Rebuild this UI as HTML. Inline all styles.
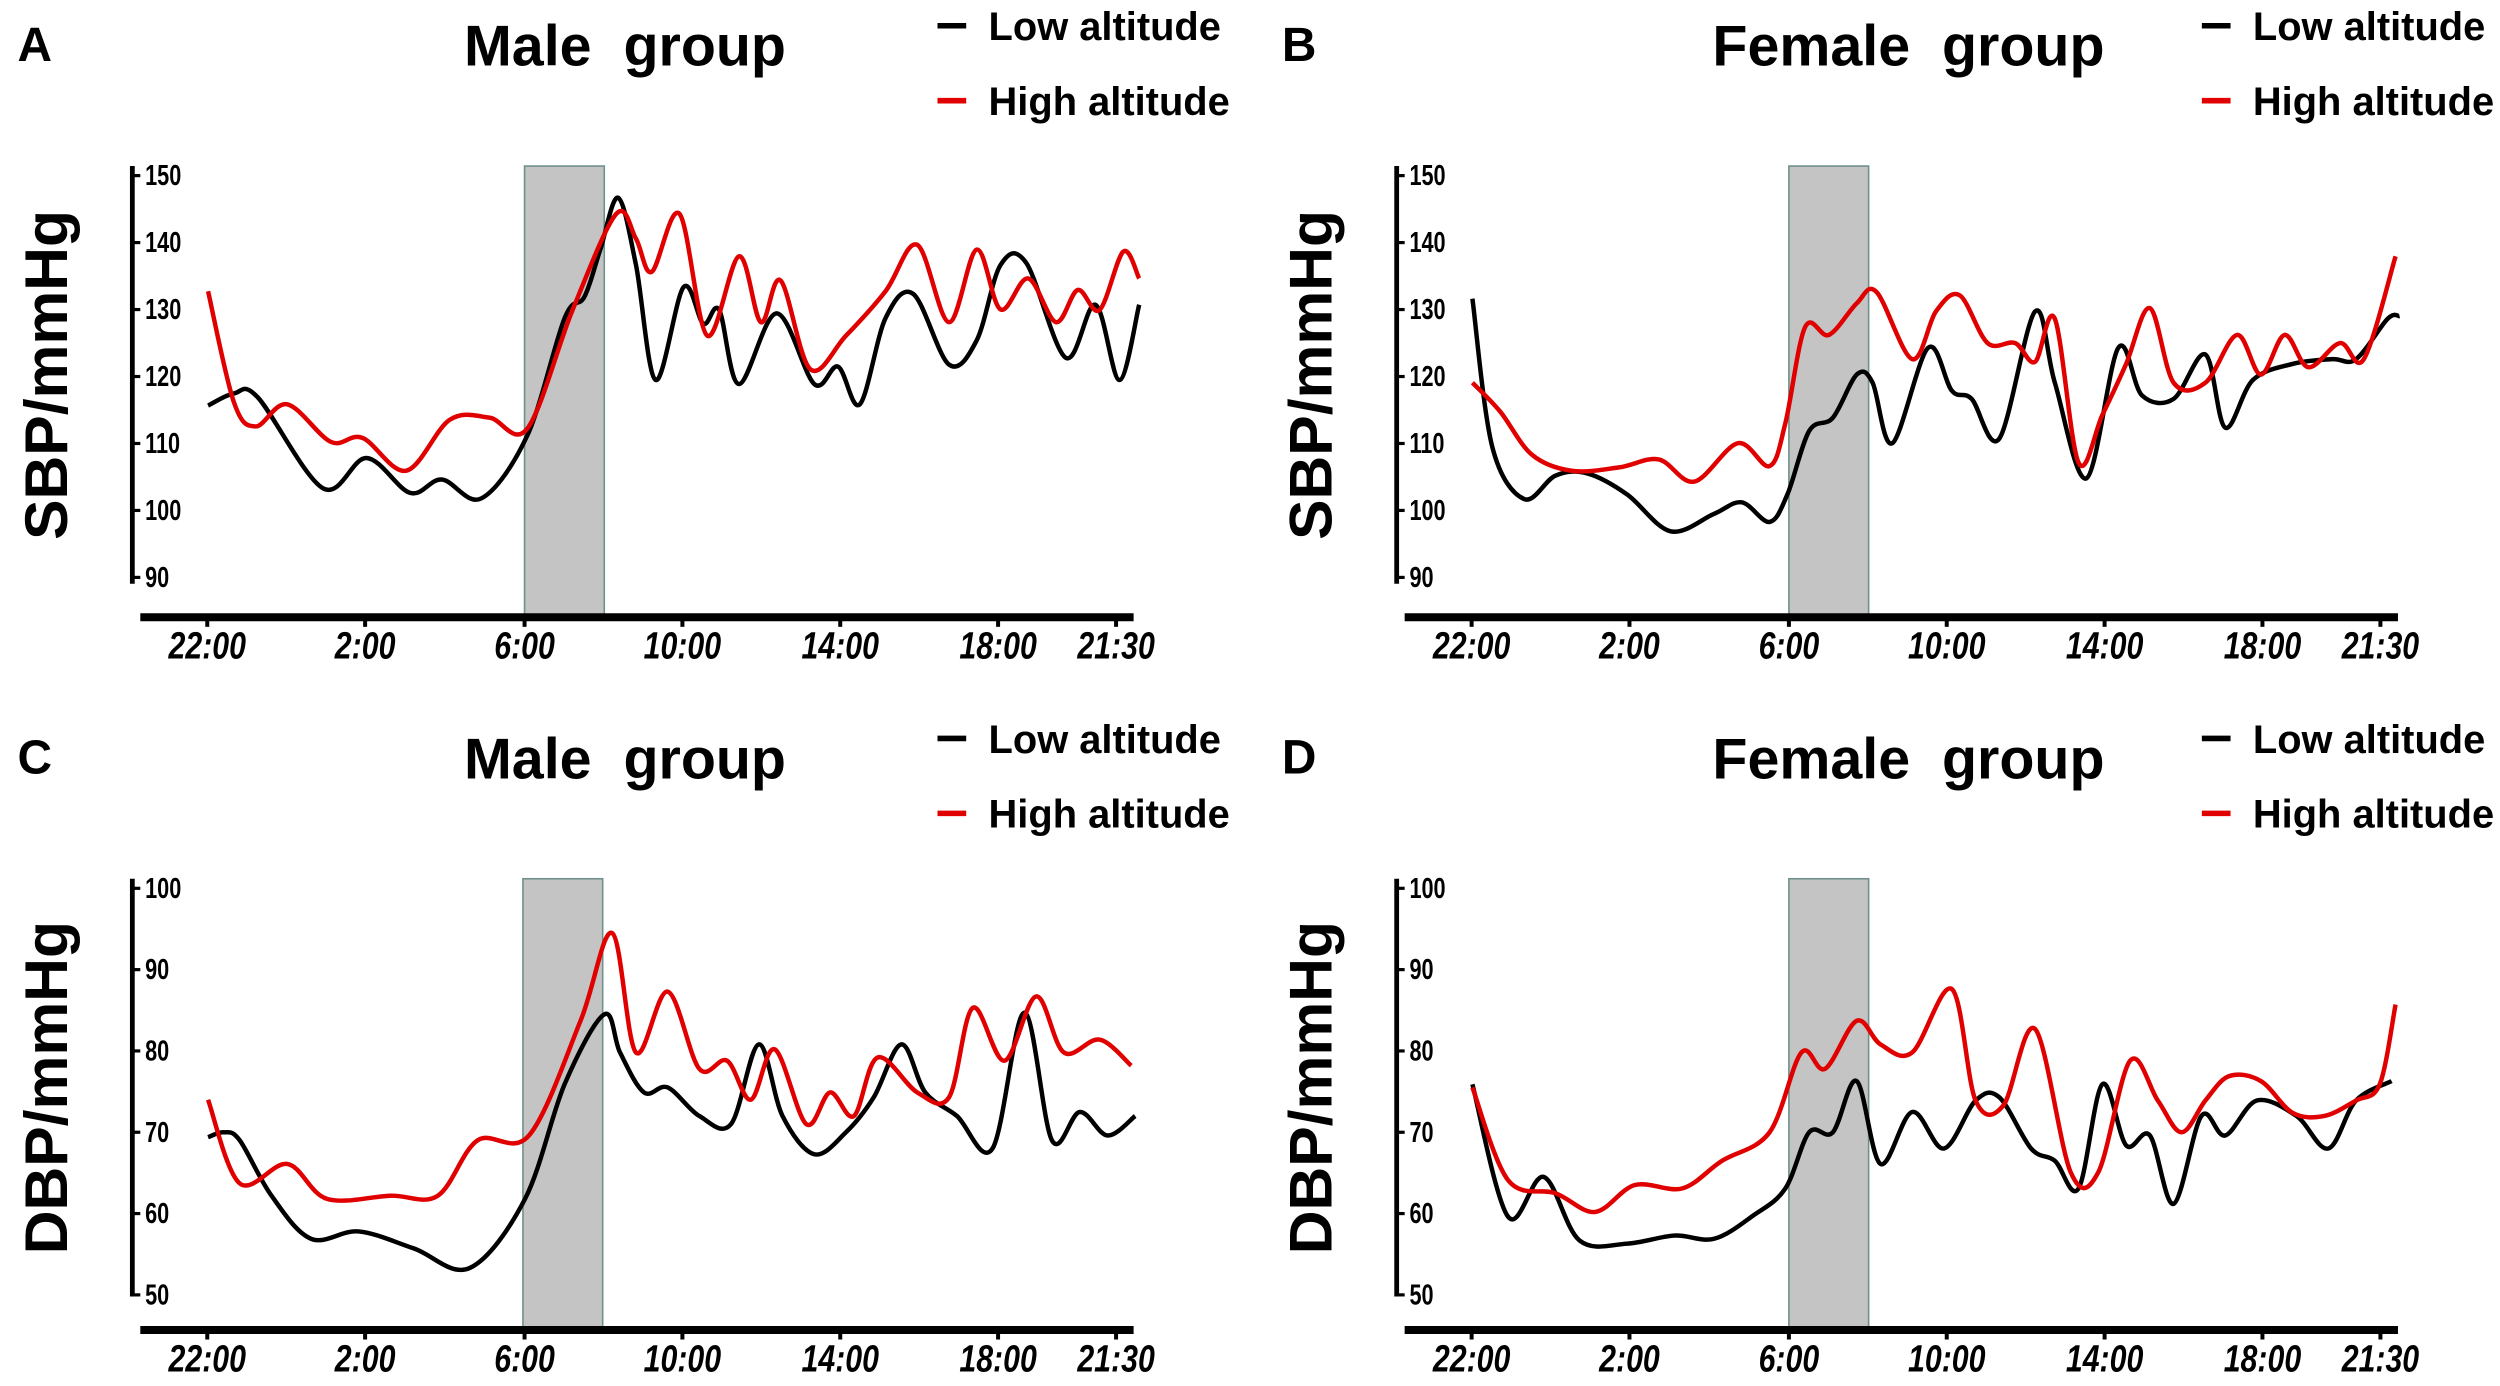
<!DOCTYPE html>
<html><head><meta charset="utf-8"><style>
html,body{margin:0;padding:0;background:#fff;}
svg{display:block;}
text{font-family:"Liberation Sans",Arial,sans-serif;font-weight:bold;fill:#000;}
.tk{font-size:17px;}
.xl{font-size:20px;font-style:italic;}
.lg{font-size:25px;}
.tt{font-size:36px;}
.pl{font-size:30px;}
.yt{font-size:38px;}
</style></head><body>
<svg id="s" width="2500" height="1386" viewBox="0 0 1568 869" xmlns="http://www.w3.org/2000/svg">
<rect width="1568" height="869" fill="#fff"/>
</svg>
<script>
var S=document.getElementById('s'),NS='http://www.w3.org/2000/svg';
function el(t,a,txt,p){var e=document.createElementNS(NS,t);for(var k in a)e.setAttribute(k,a[k]);if(txt!=null)e.textContent=txt;(p||S).appendChild(e);return e;}
function smooth(pts){var d='M'+pts[0][0].toFixed(1)+','+pts[0][1].toFixed(1);
for(var i=0;i<pts.length-1;i++){var p0=pts[i-1]||pts[i],p1=pts[i],p2=pts[i+1],p3=pts[i+2]||p2;
var c1=[p1[0]+(p2[0]-p0[0])/6,p1[1]+(p2[1]-p0[1])/6],c2=[p2[0]-(p3[0]-p1[0])/6,p2[1]-(p3[1]-p1[1])/6];
d+='C'+c1[0].toFixed(1)+','+c1[1].toFixed(1)+' '+c2[0].toFixed(1)+','+c2[1].toFixed(1)+' '+p2[0].toFixed(1)+','+p2[1].toFixed(1);}
return d;}
function panel(dx,dy,letter,title,ytitle,ticks,boxX,black,red,cx){
 var g=el('g',{transform:'translate('+dx+','+dy+')'});
 el('text',{x:11,y:38,'class':'pl'},letter,g);
 el('text',{x:cx,y:41,'class':'tt','text-anchor':'middle'},title,g);
 el('line',{x1:588,x2:606,y1:16,y2:16,stroke:'#000','stroke-width':3.5},null,g);
 el('text',{x:620,y:25,'class':'lg'},'Low altitude',g);
 el('line',{x1:588,x2:606,y1:63,y2:63,stroke:'#e00000','stroke-width':3.5},null,g);
 el('text',{x:620,y:72,'class':'lg'},'High altitude',g);
 el('text',{x:0,y:0,'class':'yt','text-anchor':'middle',transform:'translate(42,235) rotate(-90)'},ytitle,g);
 el('line',{x1:83,x2:83,y1:104,y2:366,stroke:'#000','stroke-width':3},null,g);
 ticks.forEach(function(t){el('line',{x1:83,x2:88,y1:t[1],y2:t[1],stroke:'#000','stroke-width':2},null,g);
   el('text',{x:0,y:0,'class':'tk',transform:'translate(91,'+(t[1]+6)+') scale(0.8,1.05)'},t[0],g);});
 el('rect',{x:boxX,y:104,width:50,height:282,fill:'#c4c4c4',stroke:'#6f8f8c','stroke-width':1},null,g);
 el('line',{x1:88,x2:711,y1:387,y2:387,stroke:'#000','stroke-width':5},null,g);
 var xs=[[130,'22:00'],[229,'2:00'],[329,'6:00'],[428,'10:00'],[527,'14:00'],[626,'18:00'],[700,'21:30']];
 xs.forEach(function(t){el('line',{x1:t[0],x2:t[0],y1:387,y2:393,stroke:'#000','stroke-width':2.5},null,g);
   el('text',{x:0,y:0,'class':'xl','text-anchor':'middle',transform:'translate('+t[0]+',413) scale(0.95,1.2)'},t[1],g);});
 el('path',{d:smooth(black),fill:'none',stroke:'#000','stroke-width':2.8,'stroke-linejoin':'round'},null,g);
 el('path',{d:smooth(red),fill:'none',stroke:'#e00000','stroke-width':2.8,'stroke-linejoin':'round'},null,g);
}
function hv(arr,top,unit,topv){return arr.map(function(p){return [130.5+p[0]*24.85, top+(topv-p[1])*unit];});}
var sT=[['150',110],['140',152],['130',194],['120',236],['110',278],['100',320],['90',362]];
var dT=[['100',110],['90',161],['80',212],['70',263],['60',314],['50',365]];
var Ab=[[0,115.8],[0.65,117.6],[1.26,117],[2.9,103.5],[4,108],[5.1,102.8],[5.9,104.8],[6.9,102],[8.06,111.4],[9,128.8],[9.5,132],[9.9,139],[10.35,146.7],[10.8,136.7],[11.3,119.6],[12,133.4],[12.5,128],[12.9,130],[13.4,119],[14.35,129.5],[15.3,119],[15.9,121.6],[16.45,116],[17.1,128.8],[17.8,132.4],[18.7,121.9],[19.4,125.5],[20,136.7],[20.65,137],[21.65,122.9],[22.4,130.8],[23,119.6],[23.5,130.8]];
var Ar=[[0,132.8],[0.65,116.3],[1.2,112.7],[2,116],[3.1,110.4],[3.9,111],[5,106.1],[6.1,113.7],[7.1,114],[8.06,112.4],[9.2,130],[10.3,144.3],[10.8,140.6],[11.2,135.7],[11.9,144.3],[12.6,126.2],[13.4,138],[13.95,128.2],[14.45,134.4],[15.2,121.2],[16.1,126.2],[17.1,132.8],[17.9,139.7],[18.7,128.2],[19.4,139],[20,130.1],[20.7,134.7],[21.4,128.2],[21.95,133],[22.5,130],[23.1,138.7],[23.5,134.7]];
var Bb=[[0,131.7],[0.5,109.7],[1.3,101.9],[2.1,105.4],[2.9,105.7],[3.9,102.6],[5,97.1],[6.1,99.7],[6.8,101.4],[7.5,98.5],[7.95,102.6],[8.5,112],[9.1,114],[9.7,120.4],[10.1,119.2],[10.6,110.2],[11.5,124.4],[12.1,118],[12.6,116.8],[13.3,110.9],[14.2,129.8],[14.7,119.2],[15.5,105],[16.3,124.4],[16.9,117.3],[17.7,116.8],[18.5,123.4],[19,112.5],[19.7,119.6],[20.7,122],[21.7,122.7],[22.3,122.7],[23.1,128.7],[23.4,129.1]];
var Br=[[0,119.2],[0.7,114.9],[1.5,108.5],[2.5,106.1],[3.7,106.6],[4.7,107.8],[5.6,104.5],[6.7,110.2],[7.5,106.8],[7.9,113.2],[8.4,127.5],[9,126.3],[9.7,131],[10.2,132.7],[11.1,122.7],[11.7,129.8],[12.3,132.2],[13,125.1],[13.7,125.1],[14.2,122.3],[14.7,128.7],[15.3,107.3],[15.9,114.4],[16.5,122],[17.1,130.3],[17.7,119.2],[18.5,119.2],[19.3,126.3],[19.9,120.4],[20.5,126.3],[21.1,121.5],[21.9,125.1],[22.5,122.7],[23.3,138]];
var Cb=[[0,69.4],[0.4,70],[0.8,69],[1.6,62.2],[2.6,56.9],[3.8,57.8],[5.2,55.7],[6.6,53.3],[8,61.8],[9,75.9],[10,84.5],[10.4,79.8],[11,74.9],[11.6,75.5],[12.4,72],[13.2,71],[13.9,80.8],[14.5,72],[15.3,67.3],[16.1,70],[16.8,74.3],[17.5,80.8],[18.1,74.9],[18.9,72],[19.8,68],[20.6,84.7],[21.3,69],[22,72.5],[22.7,69.6],[23.4,72]];
var Cr=[[0,74],[0.8,63.7],[2,66.1],[3,61.8],[4.6,62.2],[5.8,62.2],[6.8,69],[8.1,69.6],[9.4,83.7],[10.2,94.5],[10.8,79.8],[11.6,87.3],[12.4,77.8],[13.1,78.8],[13.7,74],[14.3,80.2],[15.1,71],[15.7,74.9],[16.3,72],[16.9,79.2],[17.9,74.9],[18.7,74.3],[19.3,85.3],[20.1,78.8],[20.9,86.7],[21.6,79.8],[22.5,81.4],[23.3,78.2]];
var Db=[[0,75.9],[0.9,59.6],[1.8,64.5],[2.7,56.7],[3.9,56.3],[5.1,57.3],[6.1,56.9],[7.1,59.8],[7.9,63.1],[8.5,70],[9.1,70],[9.7,76.3],[10.3,66.1],[11.1,72.5],[11.9,68],[12.7,73.9],[13.3,74.3],[14.1,68],[14.7,66.5],[15.3,63.1],[15.9,75.9],[16.5,68.4],[17.1,69.6],[17.7,61.2],[18.4,72],[19,69.6],[19.8,73.9],[20.8,72],[21.6,68],[22.3,73.9],[23.2,76.3]];
var Dr=[[0,75.5],[0.9,64.1],[2.1,62.5],[3.1,60.2],[4.1,63.5],[5.3,63.1],[6.3,66.5],[7.5,70],[8.3,79.8],[8.9,77.8],[9.7,83.7],[10.3,80.8],[11.1,79.8],[12.1,87.6],[12.7,73.9],[13.4,73.3],[14.2,82.7],[15.1,65.1],[15.8,65.1],[16.6,78.8],[17.3,73.9],[17.9,70],[18.5,73.9],[19.1,76.9],[19.9,76.3],[20.7,72.4],[21.5,72],[22.3,73.9],[22.9,75.9],[23.3,85.7]];
var M='Male\u00a0\u00a0group',F='Female\u00a0\u00a0group';
panel(0,0,'A',M,'SBP/mmHg',sT,329,hv(Ab,110,4.217,150),hv(Ar,110,4.217,150),392);
panel(793,0,'B',F,'SBP/mmHg',sT,329,hv(Bb,110,4.217,150),hv(Br,110,4.217,150),404);
panel(0,447,'C',M,'DBP/mmHg',dT,328,hv(Cb,110,5.1,100),hv(Cr,110,5.1,100),392);
panel(793,447,'D',F,'DBP/mmHg',dT,329,hv(Db,110,5.1,100),hv(Dr,110,5.1,100),404);
</script>
</body></html>
